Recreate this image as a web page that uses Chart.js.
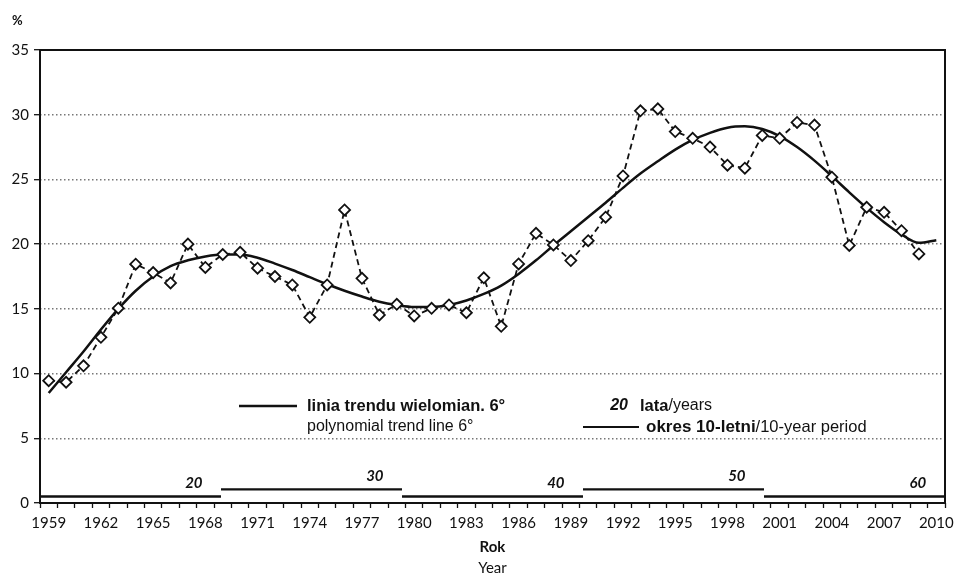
<!DOCTYPE html>
<html>
<head>
<meta charset="utf-8">
<script src="https://cdn.jsdelivr.net/npm/chart.js@4.4.1/dist/chart.umd.min.js"></script>
<style>
  html, body { margin: 0; padding: 0; background: #fff; }
  #wrap { width: 956px; height: 576px; position: relative; }
</style>
</head>
<body>
<div id="wrap"><canvas id="c"></canvas></div>
<script>
// Years on the horizontal axis (one category per year)
const years = ['1959','1960','1961','1962','1963','1964','1965','1966','1967','1968',
  '1969','1970','1971','1972','1973','1974','1975','1976','1977','1978',
  '1979','1980','1981','1982','1983','1984','1985','1986','1987','1988',
  '1989','1990','1991','1992','1993','1994','1995','1996','1997','1998',
  '1999','2000','2001','2002','2003','2004','2005','2006','2007','2008',
  '2009','2010'];

// Annual share, %
const rate = [9.45, 9.33, 10.6, 12.8, 15.05, 18.45, 17.8, 17.0, 20.0, 18.2,
  19.2, 19.37, 18.14, 17.5, 16.85, 14.35, 16.85, 22.64, 17.36, 14.53,
  15.35, 14.45, 15.04, 15.3, 14.7, 17.4, 13.65, 18.47, 20.84, 19.94,
  18.73, 20.27, 22.08, 25.27, 30.3, 30.45, 28.7, 28.18, 27.5, 26.1,
  25.87, 28.4, 28.18, 29.4, 29.2, 25.17, 19.9, 22.85, 22.46, 21.04,
  19.24, null];

// Polynomial trend line (6th degree), %
const trend = [8.5, 10.1, 11.7, 13.4, 15.0, 16.4, 17.5, 18.3, 18.75, 19.05,
  19.2, 19.2, 18.95, 18.5, 18.0, 17.45, 16.9, 16.4, 15.95, 15.55,
  15.3, 15.15, 15.15, 15.3, 15.65, 16.15, 16.8, 17.7, 18.75, 19.9,
  21.0, 22.1, 23.2, 24.35, 25.45, 26.4, 27.3, 28.05, 28.6, 29.0,
  29.1, 28.9, 28.35, 27.5, 26.45, 25.25, 24.0, 22.8, 21.7, 20.75,
  20.1, 20.3];

// 10-year periods along the bottom: label (years) and bar level
const periodLabels = ['20', '30', '40', '50', '60'];
const periodLevels = [0.5, 1.05, 0.5, 1.05, 0.5];

const yTickStep = 5;
const yMax = 35;

const FONT = 'Lato, "Liberation Sans", Arial, sans-serif';
const LEGEND_FONT = '"Liberation Sans", Arial, sans-serif';
const INK = '#111';

// Segments of the period bars on their own 0..5 axis, separated by gaps
const periodPoints = [];
periodLevels.forEach((lvl, i) => {
  if (i > 0) periodPoints.push({ x: i, y: null });
  periodPoints.push({ x: i, y: lvl }, { x: i + 1, y: lvl });
});

// Frame, axis captions, legend and period labels
const decorations = {
  id: 'decorations',
  afterDatasetsDraw(chart) {
    const { ctx, chartArea: a, scales } = chart;
    ctx.save();
    // plot frame
    ctx.strokeStyle = INK;
    ctx.lineWidth = 2;
    ctx.setLineDash([]);
    ctx.strokeRect(a.left, a.top, a.right - a.left, a.bottom - a.top);

    // period labels
    ctx.fillStyle = INK;
    ctx.font = `italic bold 15px ${FONT}`;
    ctx.textAlign = 'center';
    ctx.textBaseline = 'middle';
    periodLabels.forEach((t, i) => {
      const x = scales.x2.getPixelForValue(i + 0.85);
      const y = scales.y.getPixelForValue(periodLevels[i]) - 13;
      ctx.fillText(t, x, y);
    });

    // unit
    ctx.textAlign = 'left';
    ctx.font = `bold 13px ${FONT}`;
    ctx.fillText('%', 12, 21);

    // axis caption
    const cx = (a.left + a.right) / 2;
    ctx.textAlign = 'center';
    ctx.font = `bold 15px ${FONT}`;
    ctx.fillText('Rok', cx, 547);
    ctx.font = `15px ${FONT}`;
    ctx.fillText('Year', cx, 568);

    // legend
    const y1 = 406, y2 = 427;
    ctx.lineWidth = 2.4;
    ctx.beginPath(); ctx.moveTo(239, y1); ctx.lineTo(297, y1); ctx.stroke();
    ctx.lineWidth = 2;
    ctx.beginPath(); ctx.moveTo(583, y2); ctx.lineTo(639, y2); ctx.stroke();

    ctx.textAlign = 'left';
    ctx.font = `bold 16.5px ${LEGEND_FONT}`;
    ctx.fillText('linia trendu wielomian. 6°', 307, y1);
    ctx.font = `16px ${LEGEND_FONT}`;
    ctx.fillText('polynomial trend line 6°', 307, y2);

    ctx.textAlign = 'right';
    ctx.font = `italic bold 16px ${LEGEND_FONT}`;
    ctx.fillText('20', 628, y1);
    ctx.textAlign = 'left';
    ctx.font = `bold 16.5px ${LEGEND_FONT}`;
    ctx.fillText('lata', 640, y1);
    let w = ctx.measureText('lata').width;
    ctx.font = `16px ${LEGEND_FONT}`;
    ctx.fillText('/years', 640 + w, y1);

    ctx.font = `bold 17px ${LEGEND_FONT}`;
    ctx.fillText('okres 10-letni', 646, y2);
    w = ctx.measureText('okres 10-letni').width;
    ctx.font = `16.5px ${LEGEND_FONT}`;
    ctx.fillText('/10-year period', 646 + w, y2);
    ctx.restore();
  }
};

new Chart(document.getElementById('c'), {
  type: 'line',
  data: {
    labels: years,
    datasets: [
      {
        label: 'rate',
        data: rate,
        borderColor: INK,
        borderWidth: 1.8,
        borderDash: [6, 4],
        pointStyle: 'rectRot',
        pointRadius: 5.5,
        pointBorderWidth: 1.8,
        pointBackgroundColor: '#fff',
        pointBorderColor: INK,
        tension: 0,
        spanGaps: false
      },
      {
        label: 'trend',
        data: trend,
        borderColor: INK,
        borderWidth: 2.5,
        pointRadius: 0,
        tension: 0.4,
        cubicInterpolationMode: 'monotone'
      },
      {
        label: 'period',
        xAxisID: 'x2',
        data: periodPoints,
        borderColor: INK,
        borderWidth: 2.4,
        pointRadius: 0,
        spanGaps: false
      }
    ]
  },
  options: {
    responsive: true,
    maintainAspectRatio: false,
    animation: false,
    layout: { padding: { top: 50, right: 11, left: 0, bottom: 0 } },
    plugins: {
      legend: { display: false },
      tooltip: { enabled: false },
      title: { display: false }
    },
    scales: {
      x: {
        type: 'category',
        offset: true,
        border: { display: false },
        grid: {
          offset: true,
          drawOnChartArea: false,
          drawTicks: true,
          tickLength: 5,
          tickColor: INK,
          tickWidth: 1.3,
          tickBorderDash: []
        },
        ticks: {
          autoSkip: false,
          maxRotation: 0,
          minRotation: 0,
          padding: 6,
          color: INK,
          font: { family: FONT, size: 15 },
          callback: (v, i) => (i % 3 === 0 ? years[i] : '')
        },
        afterFit: s => { s.height = 73; s.paddingLeft = 0; s.paddingRight = 0; }
      },
      x2: {
        type: 'linear',
        display: false,
        position: 'bottom',
        min: 0,
        max: periodLabels.length
      },
      y: {
        min: 0,
        max: yMax,
        border: { display: false, dash: [1.5, 2.5] },
        grid: {
          color: c => (c.tick.value === 0 || c.tick.value === yMax) ? 'rgba(0,0,0,0)' : '#777',
          lineWidth: 1.4,
          drawTicks: true,
          tickLength: 6,
          tickColor: INK,
          tickWidth: 1.3,
          tickBorderDash: []
        },
        ticks: {
          stepSize: yTickStep,
          padding: 5,
          color: INK,
          font: { family: FONT, size: 15 }
        },
        afterFit: s => { s.width = 40; s.paddingTop = 0; s.paddingBottom = 0; }
      }
    }
  },
  plugins: [decorations]
});
</script>
</body>
</html>
